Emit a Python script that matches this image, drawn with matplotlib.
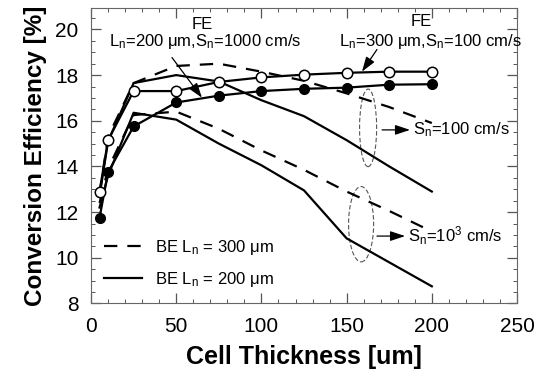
# -*- coding: utf-8 -*-
"""
Conversion efficiency vs cell thickness, FE and BE cells.
"""

import matplotlib
matplotlib.use('Agg')
import matplotlib.pyplot as plt
from matplotlib.patches import Ellipse

plt.rcParams['font.family'] = ['Liberation Sans', 'DejaVu Sans']
plt.rcParams['mathtext.default'] = 'regular'

#-- data
thick = [5, 10, 25, 50, 75, 100, 125, 150, 175, 200]

# FE, markers
fe300_s100 = [12.9, 15.15, 17.3, 17.3, 17.7, 17.9, 18.02, 18.1, 18.15, 18.15]
fe200_s1000 = [11.75, 13.75, 15.75, 16.8, 17.1, 17.3, 17.4, 17.45, 17.58, 17.6]

# BE, no markers
be300_s100 = [12.8, 15.3, 17.65, 18.4, 18.5, 18.15, 17.75, 17.2, 16.6, 15.9]
be200_s100 = [12.7, 15.1, 17.65, 18.0, 17.72, 16.9, 16.2, 15.15, 14.0, 12.9]
be300_s1000 = [12.4, 13.9, 16.25, 16.4, 15.65, 14.7, 13.85, 12.9, 12.05, 11.15]
be200_s1000 = [12.2, 13.6, 16.35, 16.05, 15.0, 14.05, 12.95, 10.85, 9.8, 8.75]

xTicks = [0, 50, 100, 150, 200, 250]
yTicks = [8, 10, 12, 14, 16, 18, 20]

#-- figure
fig = plt.figure(figsize=(5.37, 3.76), dpi=100)
ax = fig.add_axes([0.1695, 0.193, 0.7933, 0.7846])

dash = (6, 4.5)
lw = 1.6
ax.plot(thick, be300_s100, color='black', lw=lw, dashes=dash, label=r'BE L$_n$ = 300 μm')
ax.plot(thick, be200_s100, color='black', lw=lw, label=r'BE L$_n$ = 200 μm')
ax.plot(thick, be300_s1000, color='black', lw=lw, dashes=dash)
ax.plot(thick, be200_s1000, color='black', lw=lw)

ax.plot(thick, fe200_s1000, color='black', lw=lw, marker='o', ms=7,
        mfc='black', mec='black')
ax.plot(thick, fe300_s100, color='black', lw=lw, marker='o', ms=7.5,
        mfc='white', mec='black', mew=1.1)

ax.set_xlim(0, 250)
ax.set_ylim(8, 20.92)
ax.set_xticks(xTicks)
ax.set_yticks(yTicks)
ax.set_xticks(range(0, 251, 10), minor=True)
ax.set_yticks([i * 0.5 + 8 for i in range(26)], minor=True)
ax.tick_params(which='both', direction='in', top=True, right=True,
               labelsize=15, color='#555555')
ax.tick_params(which='major', length=7, width=0.9)
ax.tick_params(which='minor', length=3, width=0.7)
ax.tick_params(axis='x', pad=10)
ax.tick_params(axis='y', pad=9)
for s in ax.spines.values():
    s.set_color('#666666')
    s.set_linewidth(0.8)

ax.set_xlabel('Cell Thickness [um]', fontsize=18, fontweight='bold', labelpad=6)
ax.set_ylabel('Conversion Efficiency [%]', fontsize=17.5, fontweight='bold', labelpad=6)

#-- annotations
fs = 12
ax.text(65.1, 20.22, 'FE', fontsize=fs, ha='center', va='center')
ax.text(66.9, 19.47, r'L$_n$=200 μm,S$_n$=1000 cm/s', fontsize=fs, ha='center', va='center')
ax.text(193.7, 20.35, 'FE', fontsize=fs, ha='center', va='center')
ax.text(199.5, 19.47, r'L$_n$=300 μm,S$_n$=100 cm/s', fontsize=fs, ha='center', va='center')

arr = dict(arrowstyle='-|>,head_length=0.9,head_width=0.3', color='black', lw=0.9,
           shrinkA=0, shrinkB=0)
ax.annotate('', xy=(65.1, 17.01), xytext=(47.5, 18.77), arrowprops=arr)
ax.annotate('', xy=(159.0, 18.15), xytext=(167.8, 19.12), arrowprops=arr)

ax.add_patch(Ellipse((162.6, 15.69), 10, 3.4, fill=False, ls=(0, (4, 2)),
                     lw=0.8, color='#555555'))
ax.add_patch(Ellipse((158.5, 11.47), 14.7, 3.3, fill=False, ls=(0, (4, 2)),
                     lw=0.8, color='#555555'))

ax.annotate('', xy=(187.2, 15.6), xytext=(170.8, 15.6), arrowprops=arr)
ax.text(189, 15.6, r'S$_n$=100 cm/s', fontsize=fs, ha='left', va='center')
ax.annotate('', xy=(184.3, 10.95), xytext=(167.8, 10.95), arrowprops=arr)
ax.text(186, 10.95, r'S$_n$=10$^3$ cm/s', fontsize=fs, ha='left', va='center')

ax.legend(loc='lower left', bbox_to_anchor=(0.03, 0.05), frameon=False,
          fontsize=fs, handlelength=2.3, handletextpad=0.8, labelspacing=0.75,
          borderpad=0, borderaxespad=0)

fig.savefig('out.png', dpi=100)
